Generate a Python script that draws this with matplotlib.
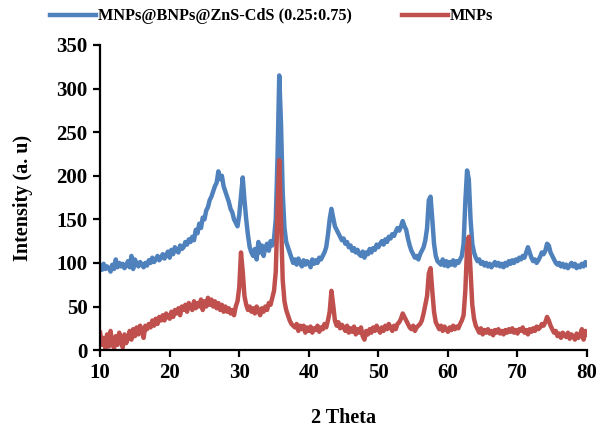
import numpy as np
import matplotlib
matplotlib.use('Agg')
import matplotlib.pyplot as plt

plt.rcParams['font.family'] = ['Liberation Serif', 'DejaVu Serif']
plt.rcParams['font.weight'] = 'bold'

BLUE = '#4F81BD'
RED = '#C0504D'

# ── data (2 theta step 0.25) ──────────────────────────────
two_theta = np.arange(10, 80.001, 0.25)

composite = [
    97, 92, 99, 93,   96, 94, 90, 98,   93, 104, 95, 100,  96, 99, 94, 97,
    102, 95, 108, 93, 104, 99, 96, 101, 98, 95, 100, 97,   103, 100, 106, 101,
    104, 108, 103, 106, 110, 105, 109, 113, 106, 115, 110, 118, 114, 112, 120, 116,
    118, 124, 121, 127, 124, 130, 126, 138, 134, 145, 140, 152, 150, 160, 164, 172,
    176, 182, 188, 192, 205, 196, 200, 188, 182, 176, 170, 162, 158, 150, 146, 142,
    155, 176, 198, 172, 150, 132, 118, 112, 108, 116, 104, 124, 112, 120, 108, 118,
    122, 114, 125, 120, 128, 150, 220, 315, 260, 180, 140, 124, 118, 112, 106, 100,
    104, 98, 105, 100, 96, 103, 98, 102,  100, 95, 104, 99,  103, 100, 106, 104,
    108, 112, 118, 132, 150, 162, 152, 142, 138, 134, 130, 126, 128, 122, 124, 118,
    120, 114, 117, 112, 115, 110, 108, 113, 106, 112, 110, 116, 112, 117, 115, 121,
    118, 122, 125, 121, 127, 124, 130, 128, 133, 131, 136, 140, 137, 142, 148, 142,
    138, 128, 120, 114, 110, 106, 108, 104, 110, 114, 118, 126, 140, 172, 176, 150,
    122, 108, 102, 100, 98, 104, 97, 102,  96, 101, 98, 103,  97, 102, 100, 104,
    108, 122, 170, 206, 196, 150, 122, 112, 106, 102, 104, 99, 101, 97, 100, 96,
    99, 95, 98, 101,  97, 100, 96, 99,  95, 100, 97, 102,  99, 103, 100, 104,
    102, 106, 104, 108, 106, 112, 118, 112, 106, 102, 104, 100, 103, 107, 112, 110,
    114, 122, 120, 112, 108, 104, 100, 98, 100, 96, 99, 95,  98, 94, 97, 100,
    96, 99, 94, 97,  95, 99, 96, 101,  98,
]

mnps = [
    20, 6, 14, 2,   18, 4, 22, 8,   2, 16, 6, 20,   10, 3, 18, 8,
    14, 22, 12, 24, 16, 26, 18, 28, 22, 14, 28, 24, 30, 26, 34, 28,
    36, 30, 38, 34, 40, 34, 42, 38, 36, 44, 38, 46, 42, 48, 40, 50,
    46, 52, 44, 54, 50, 46, 56, 48, 54, 50, 58, 46, 56, 50, 60, 52,
    58, 50, 56, 48, 54, 46, 52, 44, 50, 44, 48, 42, 46, 40, 50, 56,
    72, 112, 90, 62, 52, 46, 50, 44, 48, 42, 50, 46, 40, 48, 44, 50,
    46, 54, 52, 60, 68, 90, 160, 218, 150, 80, 56, 46, 40, 34, 30, 28,
    26, 30, 22, 28, 24, 28, 20, 26, 22, 27, 20, 25, 23, 28, 21, 26,
    24, 30, 26, 34, 44, 68, 52, 34, 28, 32, 25, 29, 26, 22, 28, 20,
    25, 21, 27, 18, 24, 20, 26, 16, 12, 22, 18, 24, 20, 26, 22, 28,
    24, 20, 26, 22, 28, 24, 30, 26, 22, 28, 24, 30, 32, 36, 42, 38,
    34, 30, 26, 24, 28, 22, 26, 28, 30, 34, 42, 52, 62, 88, 94, 68,
    44, 32, 28, 24, 28, 22, 27, 24, 21, 26, 23, 28, 24, 27, 25, 30,
    34, 40, 68, 118, 130, 90, 52, 36, 28, 24, 20, 25, 18, 23, 20, 24,
    19, 22, 17, 23, 20, 24, 19, 22, 18, 23, 20, 24, 21, 25, 20, 23,
    19, 24, 22, 26, 20, 23, 18, 24, 21, 25, 22, 27, 24, 26, 30, 28,
    32, 38, 34, 28, 24, 20, 22, 16, 19, 14, 20, 17, 15, 20, 13, 18,
    16, 12, 19, 14, 17, 24, 12, 22, 18,
]

labels = ['MNPs@BNPs@ZnS-CdS (0.25:0.75)', 'MNPs']

fig = plt.figure(figsize=(5.96, 4.28), dpi=100)
ax = fig.add_axes([0.168, 0.182, 0.817, 0.713])

ax.plot(two_theta, composite, color=BLUE, lw=3.2, label=labels[0])
ax.plot(two_theta, mnps, color=RED, lw=3.2, label=labels[1])

ax.set_xlim(10, 80)
ax.set_ylim(0, 350)
ax.set_xticks(range(10, 81, 10))
ax.set_yticks(range(0, 351, 50))
for s in ['top', 'right']:
    ax.spines[s].set_visible(False)
for s in ['left', 'bottom']:
    ax.spines[s].set_linewidth(1.6)
ax.tick_params(direction='out', length=5, width=1.6, labelsize=15, pad=4)
for t in ax.get_xticklabels() + ax.get_yticklabels():
    t.set_fontweight('bold')

ax.set_xlabel('2 Theta', fontsize=14.5, fontweight='bold', labelpad=18)
ax.set_ylabel('Intensity (a. u)', fontsize=14.5, fontweight='bold', labelpad=17)

fig.legend(loc='center left', bbox_to_anchor=(0.084, 0.962), ncol=2,
           frameon=False, prop={'size': 11.7, 'weight': 'bold'},
           handlelength=2.8, handletextpad=0.15,
           columnspacing=3.1, borderaxespad=0, borderpad=0)

fig.savefig('out.png', dpi=100)
